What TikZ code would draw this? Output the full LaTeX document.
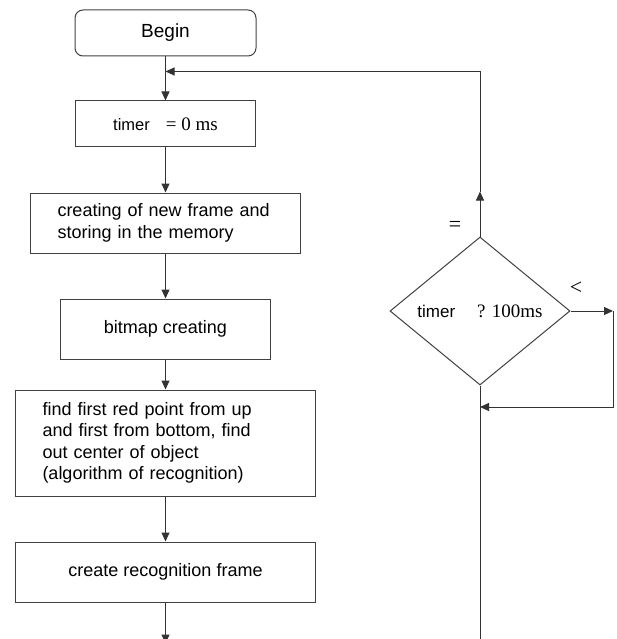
\documentclass[tikz,border=0pt]{standalone}
\usepackage{fontspec}
\setmainfont{Liberation Sans}
\newfontfamily\timesfont{Liberation Serif}
\usepackage{tikz}
\usetikzlibrary{shapes.geometric, arrows.meta, positioning, calc}
\newcommand{\boxfont}{\fontsize{18}{21.5}\selectfont}
\newcommand{\mathfont}{\fontsize{19}{22}\selectfont\timesfont}
\tikzstyle{startstop} = [rectangle, rounded corners=8pt, minimum width=181pt, minimum height=46pt, text centered, draw=black!75, line width=1pt, font=\fontsize{19}{22}\selectfont]
\tikzstyle{process} = [rectangle, minimum height=60pt, text centered, draw=black!75, line width=1pt, font=\boxfont]
\tikzstyle{textblock} = [process, align=left, inner xsep=27pt]
\tikzstyle{decision} = [diamond, minimum width=180pt, minimum height=148pt, inner sep=0pt, draw=black!75, line width=1pt, font=\fontsize{17}{20}\selectfont]
\tikzstyle{arrow} = [line width=1pt, draw=black!80, -{Triangle[length=9pt,width=8pt]}]
\tikzstyle{plainline} = [line width=1pt, draw=black!80]
\begin{document}
\begin{tikzpicture}[x=1pt, y=-1pt]
\useasboundingbox (0,0) rectangle (617,639);

% main column
\node (begin) [startstop] at (165.5,33) {Begin};
\node (timer) [process, below=44pt of begin, minimum width=180pt, minimum height=46pt, font=\fontsize{16.5}{19}\selectfont] {timer\hspace{16pt}{\mathfont = 0 ms}};
\node (create) [textblock, below=45pt of timer, text width=216pt] {creating of new frame and\\storing in the memory};
\node (bitmap) [process, below=45pt of create, minimum width=210pt] {bitmap creating};
\node (find) [textblock, below=30pt of bitmap, text width=246pt, minimum height=106pt] {find first red point from up\\and first from bottom, find\\out center of object\\(algorithm of recognition)};
\node (recog) [process, below=45pt of find, minimum width=300pt] {create recognition frame};

% timer check
\node (check) [decision] at (480,311) {timer\hspace{22pt}{\mathfont ? 100ms}};
\node (eqlabel) [font=\fontsize{22}{24}\selectfont\timesfont] at (455,226) {=};
\node (ltlabel) [font=\fontsize{22}{24}\selectfont\timesfont] at (576,288) {<};

\coordinate (back) at ($(begin.south)+(0,15)$);
\coordinate (up) at ($(check.north)+(0,-45)$);
\coordinate (right) at (613,311);
\coordinate (rejoin) at (480,407);
\coordinate (fromend) at (480,639);
\coordinate (toend) at ($(recog.south)+(0,41)$);

% connectors
\draw[arrow] (begin) -- (timer);
\draw[arrow] (timer) -- (create);
\draw[arrow] (create) -- (bitmap);
\draw[arrow] (bitmap) -- (find);
\draw[arrow] (find) -- (recog);
\draw[arrow] (recog) -- (toend);

\draw[arrow] (check.north) -- (up);
\draw[arrow] (up) |- (back);
\draw[arrow] (check.east) -- (right);
\draw[arrow] (right) |- (rejoin);
\draw[plainline] (fromend) -- (check.south);
\end{tikzpicture}
\end{document}
